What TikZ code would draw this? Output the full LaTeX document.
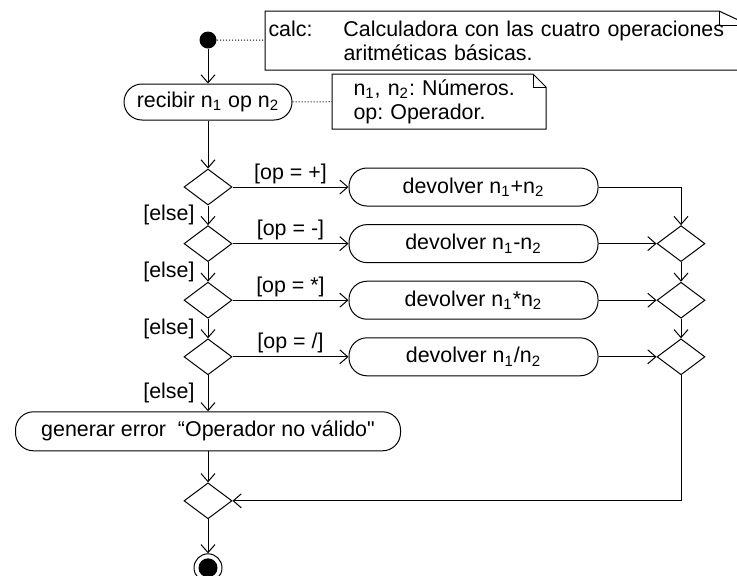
\documentclass[tikz,border=0pt]{standalone}
\usepackage{fontspec}
\setmainfont{Liberation Sans}
\newfontfamily\plainfont{Liberation Sans}
\usetikzlibrary{shapes.geometric,arrows.meta,positioning}
\newcommand{\umlfont}{\fontsize{10.7pt}{12pt}\selectfont\frenchspacing}
\newcommand{\idx}[1]{\textsubscript{#1}}
% note outline with a folded corner: name, fold width, fold height
\newcommand{\foldnote}[3]{%
  \draw (#1.north west) -- ([xshift=-#2]#1.north east) -- ([yshift=-#3]#1.north east)
    -- (#1.south east) -- (#1.south west) -- cycle;
  \draw ([xshift=-#2]#1.north east) |- ([yshift=-#3]#1.north east);}
\tikzset{
  initial/.style={circle,fill=black,minimum size=8.5pt,inner sep=0pt},
  final/.style={circle,draw,minimum size=14pt,inner sep=0pt,path picture={\fill[black] (path picture bounding box.center) circle (4.75pt);}},
  action/.style={rectangle,rounded corners=9pt,draw,minimum height=19pt,inner sep=0pt,font=\umlfont},
  decision/.style={diamond,draw,minimum width=24pt,minimum height=18pt,inner sep=0pt},
  note/.style={rectangle,anchor=north west,align=left,inner ysep=0pt,font=\umlfont},
  flow/.style={-{Straight Barb[length=4pt,width=7pt]}},
  link/.style={densely dotted},
  cond/.style={above,inner sep=1.5pt,font=\umlfont},
  guard/.style={left,inner xsep=6.5pt,inner ysep=0pt,font=\umlfont},
}
\begin{document}
\begin{tikzpicture}[line width=0.5pt]
  \useasboundingbox (0,0) rectangle (368.5pt,-287.5pt);
  \clip (0,0) rectangle (368.5pt,-287.5pt);

  % Main column
  \node[initial] (init) at (104pt,-20pt) {};
  \node[action, below=17.25pt of init, minimum width=84pt, minimum height=18pt] (recv) {recibir n\idx{1} op n\idx{2}};
  \node[decision, below=24pt of recv] (d1) {};
  \node[decision, below=9.8pt of d1] (d2) {};
  \node[decision, below=9.8pt of d2] (d3) {};
  \node[decision, below=9.8pt of d3] (d4) {};
  \node[action, below=18pt of d4, minimum width=192.5pt, minimum height=19.5pt] (err) {generar error\ \ “Operador no válido{\plainfont"}};
  \node[decision, below=15.5pt of err] (merge) {};
  \node[final, below=17pt of merge] (final) {};

  % Operations
  \node[action, right=58pt of d1, minimum width=124.5pt] (b1) {devolver n\idx{1}+n\idx{2}};
  \node[action, right=58pt of d2, minimum width=124.5pt] (b2) {devolver n\idx{1}-n\idx{2}};
  \node[action, right=58pt of d3, minimum width=124.5pt] (b3) {devolver n\idx{1}*n\idx{2}};
  \node[action, right=58pt of d4, minimum width=124.5pt] (b4) {devolver n\idx{1}/n\idx{2}};

  % Joins
  \node[decision, right=29pt of b2] (j1) {};
  \node[decision, right=29pt of b3] (j2) {};
  \node[decision, right=29pt of b4] (j3) {};

  % Notes
  \node[note, text width=238.5pt, inner xsep=1.5pt, minimum height=29pt] (note1) at (132.5pt,-5.5pt)
    {\makebox[37.5pt][l]{calc:}Calculadora con las cuatro operaciones\\\hspace*{37.5pt}aritméticas básicas.};
  \node[note, text width=85.5pt, inner xsep=10.5pt, minimum height=27pt] (note2) at (166pt,-37pt)
    {n\idx{1}, n\idx{2}: Números.\\op: Operador.};
  \foldnote{note1}{15pt}{7pt}
  \foldnote{note2}{6.5pt}{6.5pt}
  \draw[link] (init) -- (note1);
  \draw[link] (recv) -- (note2);

  % Flows
  \draw[flow] (init) -- (recv);
  \draw[flow] (recv) -- (d1);
  \draw[flow] (d1) -- node[guard] {[else]} (d2);
  \draw[flow] (d2) -- node[guard] {[else]} (d3);
  \draw[flow] (d3) -- node[guard] {[else]} (d4);
  \draw[flow] (d4) -- node[guard] {[else]} (err);
  \draw[flow] (d1) -- node[cond] {[op = +]} (b1);
  \draw[flow] (d2) -- node[cond] {[op = -]} (b2);
  \draw[flow] (d3) -- node[cond] {[op = *]} (b3);
  \draw[flow] (d4) -- node[cond] {[op = /]} (b4);
  \draw[flow] (b1) -| (j1);
  \draw[flow] (b2) -- (j1);
  \draw[flow] (b3) -- (j2);
  \draw[flow] (b4) -- (j3);
  \draw[flow] (j1) -- (j2);
  \draw[flow] (j2) -- (j3);
  \draw[flow] (j3) |- (merge);
  \draw[flow] (err) -- (merge);
  \draw[flow] (merge) -- (final);
\end{tikzpicture}
\end{document}
